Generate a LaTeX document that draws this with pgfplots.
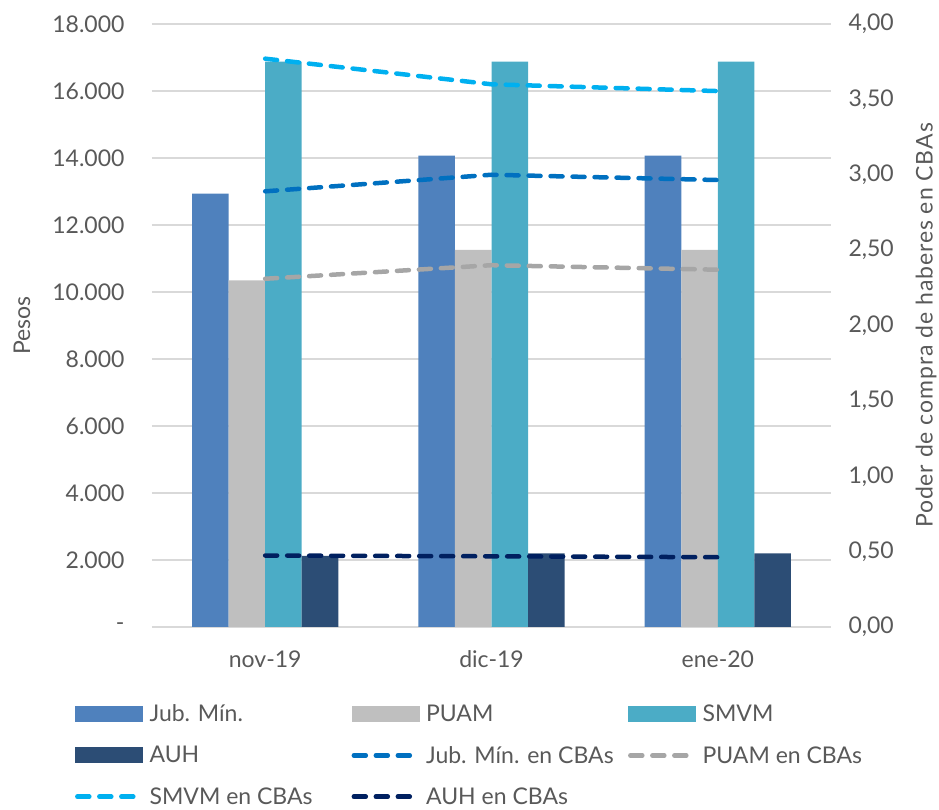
\documentclass[border=0pt]{standalone}
\usepackage{fontspec}
\setmainfont{Lato}
\usepackage{pgfplots}
\pgfplotsset{compat=1.18}

\definecolor{txt}{RGB}{89,89,89}
\definecolor{gridc}{RGB}{217,217,217}
\definecolor{cJub}{RGB}{79,129,189}
\definecolor{cPuam}{RGB}{191,191,191}
\definecolor{cSmvm}{RGB}{75,172,198}
\definecolor{cAuh}{RGB}{44,77,117}
\definecolor{lJub}{RGB}{0,112,192}
\definecolor{lPuam}{RGB}{166,166,166}
\definecolor{lSmvm}{RGB}{0,176,240}
\definecolor{lAuh}{RGB}{0,32,96}

\newcommand{\fs}{\fontsize{23}{27}\selectfont}

\pgfplotsset{
  base/.style={
    scale only axis, width=679pt, height=603pt,
    at={(0,0)}, anchor=south west,
    xmin=-0.5, xmax=2.5,
    axis line style={draw=none},
    major tick length=0pt,
    scaled y ticks=false,
    tick label style={font=\fs, text=txt},
    label style={font=\fs, text=txt},
  },
  cbaline/.style={line width=4.5pt, line cap=round, dash pattern=on 12pt off 10pt},
  barleg/.style={legend image code/.code={\fill[##1] (0pt,-8pt) rectangle (68pt,8pt);}},
  lineleg/.style={legend image code/.code={\draw[##1] (2pt,0pt) -- (66pt,0pt);}},
}

\begin{document}
\begin{tikzpicture}
\begin{axis}[base,
  ymin=0, ymax=18000,
  ytick={0,2000,...,18000},
  yticklabels={-,2.000,4.000,6.000,8.000,10.000,12.000,14.000,16.000,18.000},
  ymajorgrids, grid style={gridc, line width=1.5pt},
  xtick={0,1,2}, xticklabels={nov-19,dic-19,ene-20},
  xticklabel style={yshift=-20pt},
  yticklabel style={xshift=-24pt},
  ylabel={Pesos},
  ylabel style={at={(axis description cs:0,0.5)}, anchor=center, yshift=130pt},
  bar width=0.1615,
]
\draw[gridc, line width=1.5pt] (axis cs:-0.5,0) -- (axis cs:2.5,0);
\addplot[ybar, fill=cJub, draw=none, bar shift=-0.24225] coordinates {(0,12937) (1,14068) (2,14068)};
\addplot[ybar, fill=cPuam, draw=none, bar shift=-0.08075] coordinates {(0,10350) (1,11254) (2,11254)};
\addplot[ybar, fill=cSmvm, draw=none, bar shift=0.08075] coordinates {(0,16875) (1,16875) (2,16875)};
\addplot[ybar, fill=cAuh, draw=none, bar shift=0.24225] coordinates {(0,2122) (1,2197) (2,2197)};
\end{axis}

\begin{axis}[base,
  ymin=0, ymax=4,
  axis y line*=right, axis x line=none,
  ytick={0,0.5,...,4},
  yticklabels={{0,00},{0,50},{1,00},{1,50},{2,00},{2,50},{3,00},{3,50},{4,00}},
  yticklabel style={anchor=west, xshift=14pt},
  ylabel={\addfontfeature{LetterSpace=4}Poder de compra de haberes en CBAs},
  ylabel style={at={(axis description cs:1,0.5)}, anchor=center, yshift=-95pt},
  legend columns=3,
  legend cell align=left,
  legend style={draw=none, fill=none, at={(axis description cs:-0.118,-0.122)}, anchor=north west,
    font=\fs, text=txt,
    /tikz/every odd column/.append style={column sep=4pt},
    /tikz/every even column/.append style={column sep=4pt},
    row sep=19pt},
]
\addlegendimage{barleg, fill=cJub, draw=none}
\addlegendentry{\makebox[196pt][l]{Jub. Mín.}}
\addlegendimage{barleg, fill=cPuam, draw=none}
\addlegendentry{\makebox[196pt][l]{PUAM}}
\addlegendimage{barleg, fill=cSmvm, draw=none}
\addlegendentry{SMVM}
\addlegendimage{barleg, fill=cAuh, draw=none}
\addlegendentry{\makebox[196pt][l]{AUH}}
\addplot[lineleg, cbaline, lJub] coordinates {(0,2.89) (1,3.00) (2,2.965)};
\addlegendentry{\makebox[196pt][l]{Jub. Mín. en CBAs}}
\addplot[lineleg, cbaline, lPuam] coordinates {(0,2.31) (1,2.40) (2,2.37)};
\addlegendentry{PUAM en CBAs}
\addplot[lineleg, cbaline, lSmvm] coordinates {(0,3.77) (1,3.60) (2,3.555)};
\addlegendentry{\makebox[196pt][l]{SMVM en CBAs}}
\addplot[lineleg, cbaline, lAuh] coordinates {(0,0.474) (1,0.469) (2,0.463)};
\addlegendentry{AUH en CBAs}
\end{axis}
\pgfresetboundingbox
\path (-152pt,-183pt) rectangle (787pt,627pt);
\end{tikzpicture}
\end{document}
